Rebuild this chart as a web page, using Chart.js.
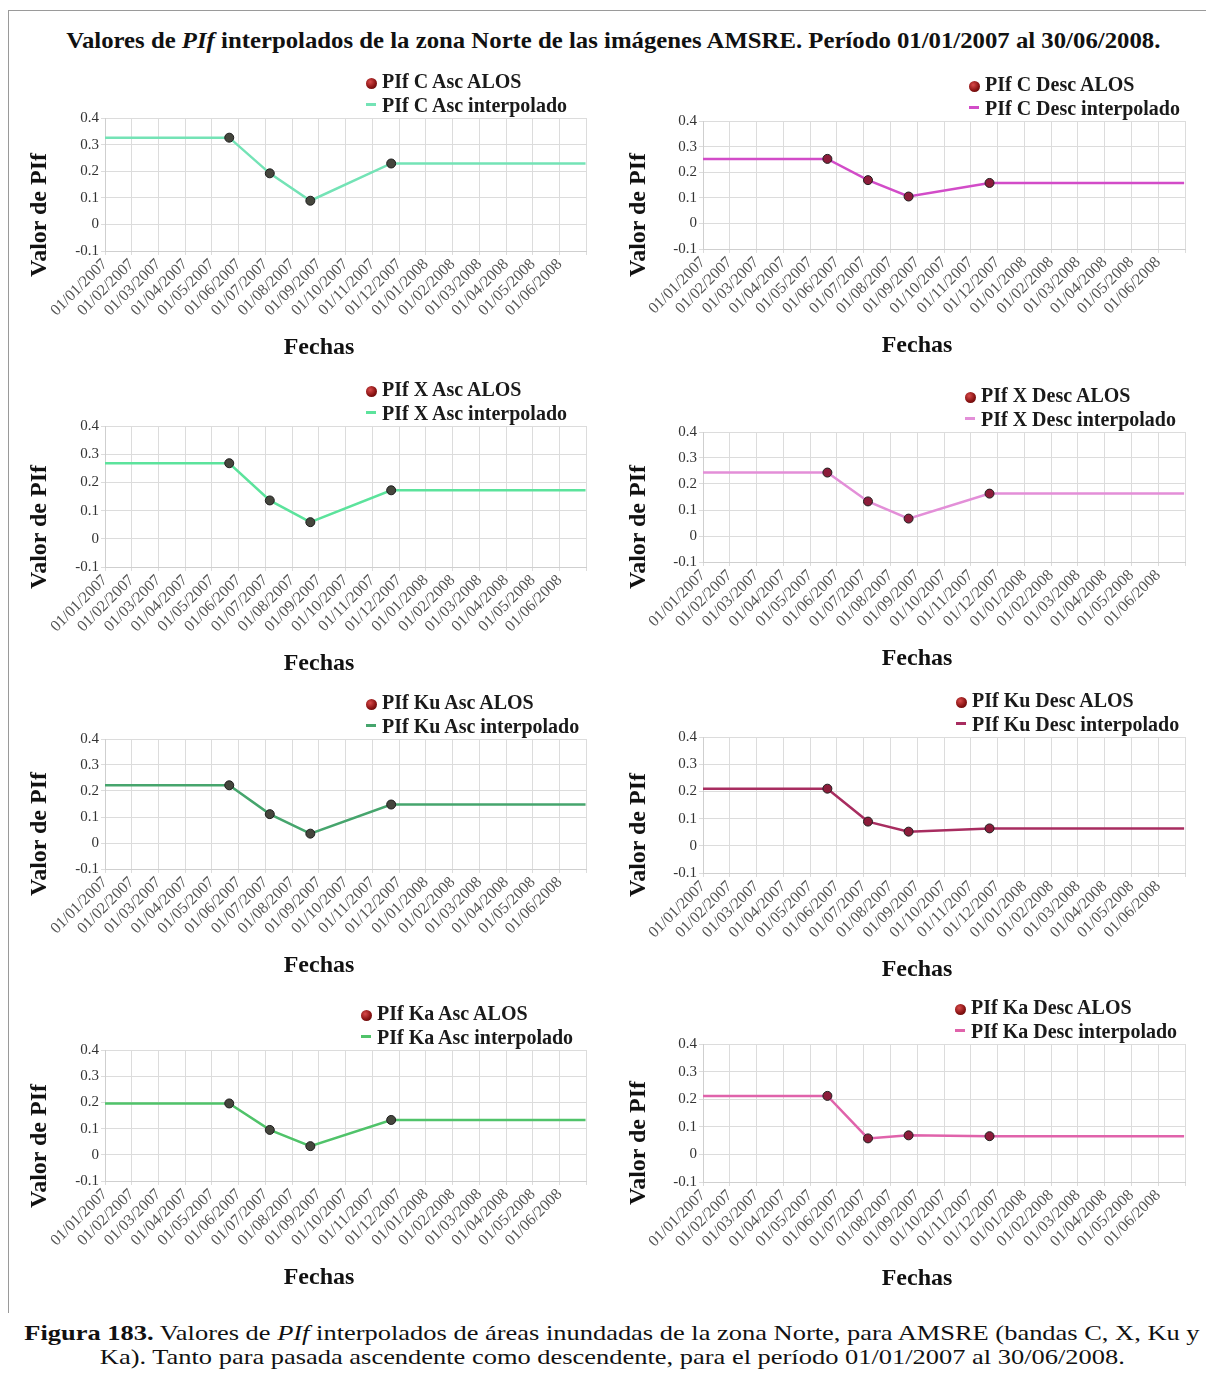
<!DOCTYPE html>
<html lang="es">
<head>
<meta charset="utf-8">
<title>Valores de PIf interpolados - zona Norte AMSRE</title>
<script src="https://cdn.jsdelivr.net/npm/chart.js@4.4.1/dist/chart.umd.min.js"></script>
<style>
	body {
		margin: 0;
		width: 1206px;
		height: 1373px;
		position: relative;
		overflow: hidden;
		background: #fff;
		font-family: "Liberation Serif", serif;
		color: #111;
	}
	#marco {
		position: absolute;
		left: 8px;
		top: 10px;
		width: 1200px;
		height: 1302px;
		border-top: 1px solid #9a9a9a;
		border-left: 1px solid #9a9a9a;
	}
	#titulo {
		position: absolute;
		left: 10px;
		width: 1206px;
		top: 25px;
		text-align: center;
		font-weight: bold;
		font-size: 24px;
		line-height: 30px;
		white-space: nowrap;
	}
	#titulo span, #pie span {
		display: inline-block;
	}
	.panel {
		position: absolute;
	}
	.leyenda {
		position: absolute;
		font-weight: bold;
		font-size: 20px;
		line-height: 24px;
		white-space: nowrap;
		color: #1a1a1a;
	}
	.leyenda div {
		height: 24px;
	}
	.marca_punto {
		display: inline-block;
		width: 11px;
		height: 11px;
		border-radius: 50%;
		margin-right: 5px;
		vertical-align: -1px;
	}
	.marca_linea {
		display: inline-block;
		width: 10px;
		height: 3px;
		margin-right: 6px;
		vertical-align: 6px;
	}
	.titulo_y {
		position: absolute;
		font-weight: bold;
		font-size: 24px;
		line-height: 28px;
		white-space: nowrap;
		transform: translate(-50%, -50%) rotate(-90deg);
	}
	.titulo_x {
		position: absolute;
		font-weight: bold;
		font-size: 24px;
		line-height: 28px;
		white-space: nowrap;
		transform: translate(-50%, -50%);
	}
	#pie {
		position: absolute;
		left: 0;
		width: 1224px;
		top: 1321px;
		text-align: center;
		font-size: 22px;
		line-height: 24px;
		white-space: nowrap;
		color: #111;
	}
</style>
</head>
<body>
<div id="marco"></div>
<div id="titulo"><span id="titulo_txt">Valores de <i>PIf</i> interpolados de la zona Norte de las imágenes AMSRE. Período 01/01/2007 al 30/06/2008.</span></div>
<div id="paneles"></div>
<div id="pie">
	<div><span id="pie_1"><b>Figura 183.</b> Valores de <i>PIf</i> interpolados de áreas inundadas de la zona Norte, para AMSRE (bandas C, X, Ku y</span></div>
	<div><span id="pie_2">Ka). Tanto para pasada ascendente como descendente, para el período 01/01/2007 al 30/06/2008.</span></div>
</div>

<script>
// etiquetas del eje x (una por mes)
const etiquetas_fechas = [
	"01/01/2007", "01/02/2007", "01/03/2007", "01/04/2007", "01/05/2007", "01/06/2007",
	"01/07/2007", "01/08/2007", "01/09/2007", "01/10/2007", "01/11/2007", "01/12/2007",
	"01/01/2008", "01/02/2008", "01/03/2008", "01/04/2008", "01/05/2008", "01/06/2008"
];
const valores_eje_y = [-0.1, 0, 0.1, 0.2, 0.3, 0.4];

// fechas de las imagenes ALOS y extremos del periodo
const fechas_alos = ["21/05/2007", "06/07/2007", "22/08/2007", "22/11/2007"];
const fechas_interpolado = ["01/01/2007", "21/05/2007", "06/07/2007", "22/08/2007", "22/11/2007", "30/06/2008"];

// banda C
const pif_c_asc_alos = [0.326, 0.192, 0.089, 0.229];
const pif_c_asc_interpolado = [0.326, 0.326, 0.192, 0.089, 0.229, 0.229];
const pif_c_desc_alos = [0.252, 0.169, 0.105, 0.158];
const pif_c_desc_interpolado = [0.252, 0.252, 0.169, 0.105, 0.158, 0.158];
// banda X
const pif_x_asc_alos = [0.268, 0.136, 0.059, 0.172];
const pif_x_asc_interpolado = [0.268, 0.268, 0.136, 0.059, 0.172, 0.172];
const pif_x_desc_alos = [0.244, 0.133, 0.067, 0.163];
const pif_x_desc_interpolado = [0.244, 0.244, 0.133, 0.067, 0.163, 0.163];
// banda Ku
const pif_ku_asc_alos = [0.222, 0.111, 0.036, 0.148];
const pif_ku_asc_interpolado = [0.222, 0.222, 0.111, 0.036, 0.148, 0.148];
const pif_ku_desc_alos = [0.210, 0.089, 0.052, 0.064];
const pif_ku_desc_interpolado = [0.210, 0.210, 0.089, 0.052, 0.064, 0.064];
// banda Ka
const pif_ka_asc_alos = [0.196, 0.095, 0.033, 0.133];
const pif_ka_asc_interpolado = [0.196, 0.196, 0.095, 0.033, 0.133, 0.133];
const pif_ka_desc_alos = [0.212, 0.058, 0.069, 0.066];
const pif_ka_desc_interpolado = [0.212, 0.212, 0.058, 0.069, 0.066, 0.066];

// posicion en meses desde 01/01/2007
function posicion_mes(fecha) {
	var partes = fecha.split("/").map(Number);
	var dias_mes = new Date(partes[2], partes[1], 0).getDate();
	return (partes[2] - 2007) * 12 + (partes[1] - 1) + (partes[0] - 1) / dias_mes;
}

function puntos(fechas, valores) {
	return fechas.map(function (f, i) {
		return { x: posicion_mes(f), y: valores[i] };
	});
}

// estira un texto en horizontal hasta el ancho pedido
function ajustar_ancho(elementos, referencia, ancho) {
	var k = ancho / referencia.getBoundingClientRect().width;
	elementos.forEach(function (el) {
		el.style.transform = "scaleX(" + k + ")";
	});
}

// columnas: borde del canvas y area del grafico
var columnas = [
	{ x0: 10, x1: 600, izq: 105, der: 590, tituloY: 38, tituloX: 319 },
	{ x0: 609, x1: 1200, izq: 703, der: 1185, tituloY: 637, tituloX: 917 }
];

var paneles = [
	{ banda: "C", paso: "Asc", alos: pif_c_asc_alos, interp: pif_c_asc_interpolado, color: "#74e3b6", punto: "#45463d", col: 0, arriba: 118, abajo: 251, leyX: 382 },
	{ banda: "C", paso: "Desc", alos: pif_c_desc_alos, interp: pif_c_desc_interpolado, color: "#d24cc8", punto: "#8c1c3a", col: 1, arriba: 121, abajo: 249, leyX: 985 },
	{ banda: "X", paso: "Asc", alos: pif_x_asc_alos, interp: pif_x_asc_interpolado, color: "#5ce39c", punto: "#45463d", col: 0, arriba: 426, abajo: 567, leyX: 382 },
	{ banda: "X", paso: "Desc", alos: pif_x_desc_alos, interp: pif_x_desc_interpolado, color: "#e38fd8", punto: "#8c1c3a", col: 1, arriba: 432, abajo: 562, leyX: 981 },
	{ banda: "Ku", paso: "Asc", alos: pif_ku_asc_alos, interp: pif_ku_asc_interpolado, color: "#46a56d", punto: "#45463d", col: 0, arriba: 739, abajo: 869, leyX: 382 },
	{ banda: "Ku", paso: "Desc", alos: pif_ku_desc_alos, interp: pif_ku_desc_interpolado, color: "#a82d60", punto: "#8c1c3a", col: 1, arriba: 737, abajo: 873, leyX: 972 },
	{ banda: "Ka", paso: "Asc", alos: pif_ka_asc_alos, interp: pif_ka_asc_interpolado, color: "#50c36a", punto: "#45463d", col: 0, arriba: 1050, abajo: 1181, leyX: 377 },
	{ banda: "Ka", paso: "Desc", alos: pif_ka_desc_alos, interp: pif_ka_desc_interpolado, color: "#e063ab", punto: "#8c1c3a", col: 1, arriba: 1044, abajo: 1182, leyX: 971 }
];

var MARGEN_SUP = 12;
var ALTO_EJE_X = 85;
var contenedor = document.getElementById("paneles");

paneles.forEach(function (p) {
	var c = columnas[p.col];
	var ancho = c.x1 - c.x0;
	var alto = MARGEN_SUP + (p.abajo - p.arriba) + ALTO_EJE_X;

	var div = document.createElement("div");
	div.className = "panel";
	div.style.left = c.x0 + "px";
	div.style.top = (p.arriba - MARGEN_SUP) + "px";
	div.style.width = ancho + "px";
	div.style.height = alto + "px";
	var canvas = document.createElement("canvas");
	canvas.width = ancho;
	canvas.height = alto;
	div.appendChild(canvas);
	contenedor.appendChild(div);

	var grafico = new Chart(canvas, {
		type: "line",
		data: {
			datasets: [
				{
					label: "PIf " + p.banda + " " + p.paso + " ALOS",
					data: puntos(fechas_alos, p.alos),
					showLine: false,
					backgroundColor: "#8b1414",
					pointBackgroundColor: p.punto,
					pointBorderColor: "#1e1e1e",
					pointBorderWidth: 1,
					pointRadius: 4.5,
				},
				{
					label: "PIf " + p.banda + " " + p.paso + " interpolado",
					data: puntos(fechas_interpolado, p.interp),
					borderColor: p.color,
					backgroundColor: p.color,
					borderWidth: 2.5,
					pointRadius: 0,
					tension: 0,
				},
			],
		},
		options: {
			responsive: false,
			animation: false,
			devicePixelRatio: 1,
			events: [],
			layout: {
				padding: { top: MARGEN_SUP, right: c.x1 - c.der, left: 0, bottom: 0 },
			},
			plugins: {
				legend: { display: false },
				tooltip: { enabled: false },
			},
			scales: {
				x: {
					type: "linear",
					min: 0,
					max: etiquetas_fechas.length,
					afterFit: function (escala) {
						escala.height = ALTO_EJE_X;
					},
					grid: { color: "#dcdcdc", tickLength: 4 },
					border: { color: "#cfcfcf" },
					ticks: {
						stepSize: 1,
						autoSkip: false,
						minRotation: 45,
						maxRotation: 45,
						padding: 0,
						color: "#555",
						font: { family: "Liberation Serif", size: 16 },
						callback: function (v) {
							return etiquetas_fechas[v] || "";
						},
					},
				},
				y: {
					min: valores_eje_y[0],
					max: valores_eje_y[valores_eje_y.length - 1],
					afterFit: function (escala) {
						escala.width = c.izq - c.x0;
					},
					grid: { color: "#dcdcdc", tickLength: 4 },
					border: { color: "#cfcfcf" },
					ticks: {
						stepSize: 0.1,
						padding: 2,
						color: "#333",
						font: { family: "Liberation Serif", size: 15 },
						callback: function (v) {
							return String(+v.toFixed(1));
						},
					},
				},
			},
		},
	});

	// leyenda en html a partir de los datasets
	var leyenda = document.createElement("div");
	leyenda.className = "leyenda";
	leyenda.style.left = (p.leyX - 16) + "px";
	leyenda.style.top = (p.arriba - 49) + "px";
	grafico.data.datasets.forEach(function (ds, i) {
		var fila = document.createElement("div");
		var marca = document.createElement("span");
		if (i === 0) {
			marca.className = "marca_punto";
			marca.style.background = "radial-gradient(circle at 38% 35%, #d84a4a 0%, " + ds.backgroundColor + " 55%, #4a0505 100%)";
		} else {
			marca.className = "marca_linea";
			marca.style.background = ds.borderColor;
		}
		fila.appendChild(marca);
		fila.appendChild(document.createTextNode(ds.label));
		leyenda.appendChild(fila);
	});
	contenedor.appendChild(leyenda);

	var titulo_y = document.createElement("div");
	titulo_y.className = "titulo_y";
	titulo_y.textContent = "Valor de PIf";
	titulo_y.style.left = c.tituloY + "px";
	titulo_y.style.top = ((p.arriba + p.abajo) / 2 + 30) + "px";
	contenedor.appendChild(titulo_y);

	var titulo_x = document.createElement("div");
	titulo_x.className = "titulo_x";
	titulo_x.textContent = "Fechas";
	titulo_x.style.left = c.tituloX + "px";
	titulo_x.style.top = (p.abajo + 95) + "px";
	contenedor.appendChild(titulo_x);
});

var titulo_txt = document.getElementById("titulo_txt");
ajustar_ancho([titulo_txt], titulo_txt, 1094);
var pie_2 = document.getElementById("pie_2");
ajustar_ancho([document.getElementById("pie_1"), pie_2], pie_2, 1025);
</script>
</body>
</html>
